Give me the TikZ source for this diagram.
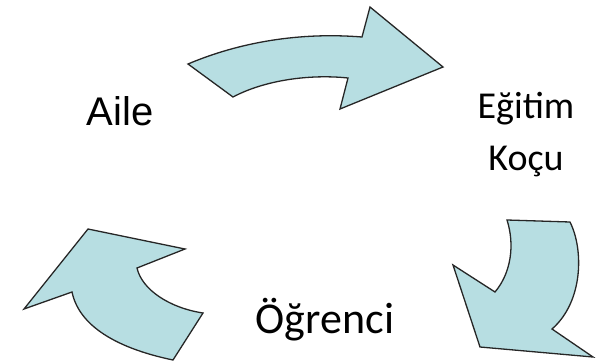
\documentclass[tikz,border=0pt]{standalone}
\usepackage{fontspec}
\setmainfont{Carlito}
\newfontfamily\ailefont{Liberation Sans}
\definecolor{arrowfill}{HTML}{B7DEE2}
\tikzset{
  cyclearrow/.style={draw=black!85,fill=arrowfill,line width=1.3pt,line join=miter},
  label/.style={anchor=base,inner sep=0pt}
}

\begin{document}
\begin{tikzpicture}[x=1pt,y=-1pt]
    \useasboundingbox (0,0) rectangle (602,361);
    % top arrow
    \draw [cyclearrow] (188,64) .. controls (240,42) and (300,32) .. (362,37)
      -- (370,7) -- (443,67) -- (340,109) -- (348,78)
      .. controls (310,74) and (265,80) .. (233,97) -- cycle;
    % right arrow
    \draw [cyclearrow] (507,220) -- (570,222)
      .. controls (584,250) and (583,302) .. (552,329)
      -- (593,357) -- (480,347) -- (453,265) -- (495,292)
      .. controls (511,273) and (515,245) .. (507,220) -- cycle;
    % left arrow
    \draw [cyclearrow] (88,229) -- (185,249) -- (137,268)
      .. controls (142,290) and (170,308) .. (203,313)
      -- (173,360) .. controls (125,350) and (80,330) .. (72,292)
      -- (24,309) -- cycle;
    % texts
    \node [label] (aile) at (120,125) {\ailefont\fontsize{40}{48}\selectfont Aile};
    \node [label] (egitim) at (526,118) {\fontsize{38}{46}\selectfont Eğitim};
    \node [label] (kocu) at (526,170) {\fontsize{38}{46}\selectfont Koçu};
    \node [label] (ogrenci) at (325,333) {\fontsize{44}{52}\selectfont Öğrenci};
\end{tikzpicture}
\end{document}
